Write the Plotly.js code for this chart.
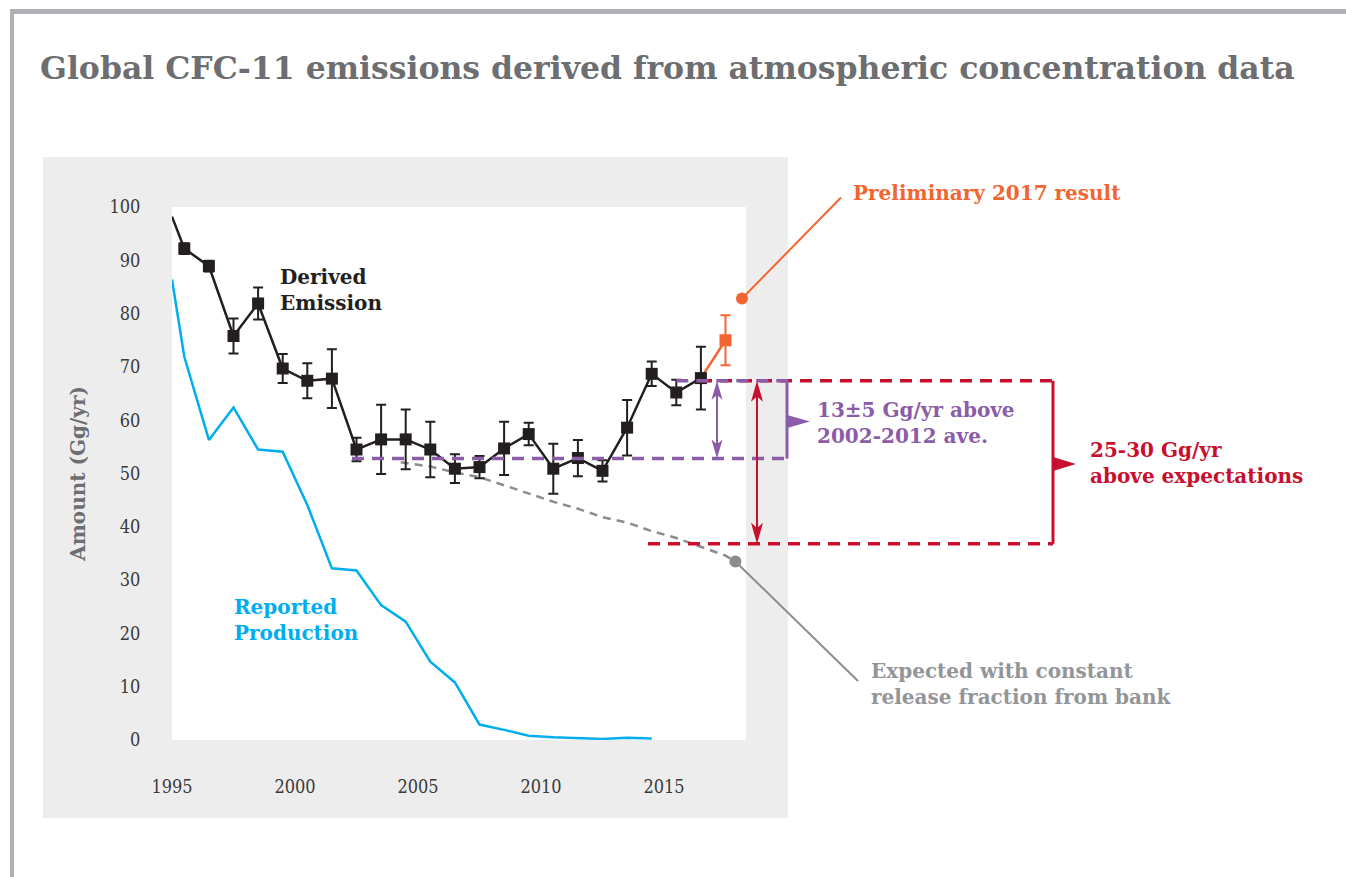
<!DOCTYPE html>
<html>
<head>
<meta charset="utf-8">
<script src="https://cdn.plot.ly/plotly-3.0.1.min.js"></script>
<style>
  html, body { margin: 0; padding: 0; background: #ffffff; }
  #chart { width: 1346px; height: 877px; }
</style>
</head>
<body>
<div id="chart"></div>
<script>
// ---------------- DATA ----------------
// Derived emission (Gg/yr), plotted at mid-year
const derivedYears  = [1995.5, 1996.5, 1997.5, 1998.5, 1999.5, 2000.5, 2001.5, 2002.5, 2003.5, 2004.5, 2005.5,
                       2006.5, 2007.5, 2008.5, 2009.5, 2010.5, 2011.5, 2012.5, 2013.5, 2014.5, 2015.5, 2016.5];
const derivedValues = [92.2, 88.9, 75.8, 81.9, 69.7, 67.4, 67.8, 54.5, 56.4, 56.4, 54.5,
                       50.9, 51.2, 54.7, 57.4, 50.9, 52.9, 50.5, 58.6, 68.7, 65.2, 67.9];
const derivedErrors = [1.0, 1.0, 3.3, 3.0, 2.7, 3.3, 5.5, 2.2, 6.5, 5.6, 5.2,
                       2.7, 2.1, 5.0, 2.1, 4.7, 3.4, 2.0, 5.2, 2.3, 2.4, 5.9];
// where the derived-emission line enters the plot at its left edge
const derivedEdgeYear = 1995.0;
const derivedEdgeValue = 98.2;

// Preliminary 2017 result
const prelimYear = 2017.5;
const prelimValue = 75.0;
const prelimError = 4.7;

// Reported production (Gg/yr)
const productionYears  = [1995.0, 1995.5, 1996.5, 1997.5, 1998.5, 1999.5, 2000.5, 2001.5, 2002.5, 2003.5, 2004.5,
                          2005.5, 2006.5, 2007.5, 2008.5, 2009.5, 2010.5, 2011.5, 2012.5, 2013.5, 2014.5];
const productionValues = [86.4, 71.9, 56.3, 62.4, 54.5, 54.1, 44.1, 32.2, 31.8, 25.3, 22.2,
                          14.7, 10.8, 2.9, 1.9, 0.8, 0.5, 0.3, 0.2, 0.4, 0.3];

// Expected with constant release fraction from bank
const expectedYears  = [2004.3, 2005.5, 2006.5, 2007.5, 2008.5, 2009.5, 2010.5, 2011.5, 2012.5, 2013.5, 2014.5,
                        2015.5, 2016.5, 2017.5, 2017.9];
const expectedValues = [52.1, 51.3, 50.2, 49.3, 47.8, 46.3, 44.7, 43.4, 41.8, 40.8, 39.2,
                        37.9, 36.3, 34.6, 33.5];

// Reference levels used in the annotations
const recentLevel   = 67.4;   // recent emission level
const averageLevel  = 52.8;   // 2002-2012 average
const expectedLevel = 36.8;   // expected value

// Axis ticks
const xTicks = [1995, 2000, 2005, 2010, 2015];
const yTicks = [0, 10, 20, 30, 40, 50, 60, 70, 80, 90, 100];

// ---------------- LAYOUT GEOMETRY ----------------
const W = 1346, H = 877;
const PL = 172, PR = 746, PT = 207, PB = 740;       // plot area in pixels
const XMIN = 1995, XMAX = 1995 + (PR - PL) / 24.6;
const YMIN = 0, YMAX = 100;
const pw = PR - PL, ph = PB - PT;

function xp(year) { return (year - XMIN) / (XMAX - XMIN); }   // data -> paper
function yp(v)    { return (v - YMIN) / (YMAX - YMIN); }
function px2x(px) { return (px - PL) / pw; }                  // pixel -> paper
function px2y(py) { return (PB - py) / ph; }

const FONT = "'DejaVu Serif', serif";
const TICKFONT = "'DejaVu Serif Condensed', 'DejaVu Serif', serif";

const BLACK = '#231f20', BLUE = '#00aeef', ORANGE = '#f26531',
      PURPLE = '#8b5ca8', RED = '#c8102e', GRAY = '#939598';

// ---------------- TRACES ----------------
const traces = [
  { // derived emission line entering from left edge
    x: [derivedEdgeYear].concat(derivedYears),
    y: [derivedEdgeValue].concat(derivedValues),
    mode: 'lines', line: { color: BLACK, width: 2.5 }, hoverinfo: 'skip', showlegend: false
  },
  { // orange link to 2017
    x: [derivedYears[derivedYears.length - 1], prelimYear],
    y: [derivedValues[derivedValues.length - 1], prelimValue],
    mode: 'lines', line: { color: ORANGE, width: 2.5 }, showlegend: false
  },
  { // reported production
    x: productionYears, y: productionValues,
    mode: 'lines', line: { color: BLUE, width: 2.5 }, showlegend: false
  },
  { // expected
    x: expectedYears, y: expectedValues,
    mode: 'lines', line: { color: '#8c8c8e', width: 2.5, dash: '8px,6px' }, showlegend: false
  },
  { // derived markers + error bars
    x: derivedYears, y: derivedValues,
    mode: 'markers',
    marker: { symbol: 'square', size: 12, color: BLACK },
    error_y: { type: 'data', array: derivedErrors, visible: true, color: BLACK, thickness: 2, width: 5 },
    showlegend: false
  },
  { // preliminary 2017
    x: [prelimYear], y: [prelimValue],
    mode: 'markers',
    marker: { symbol: 'square', size: 12, color: ORANGE },
    error_y: { type: 'data', array: [prelimError], visible: true, color: ORANGE, thickness: 2, width: 5 },
    showlegend: false
  }
];

// ---------------- SHAPES ----------------
const shapes = [];
function rectPx(x0, y0, x1, y1, color, layer) {
  shapes.push({ type: 'rect', xref: 'paper', yref: 'paper', layer: layer || 'below',
    x0: px2x(x0), x1: px2x(x1), y0: px2y(y0), y1: px2y(y1),
    fillcolor: color, line: { width: 0 } });
}
function linePaper(x0, y0, x1, y1, color, width, dash, layer) {
  shapes.push({ type: 'line', xref: 'paper', yref: 'paper', layer: layer || 'above',
    x0: x0, y0: y0, x1: x1, y1: y1, line: { color: color, width: width, dash: dash || 'solid' } });
}
function triPaper(pts, color) {
  const d = 'M ' + pts.map(p => p[0] + ',' + p[1]).join(' L ') + ' Z';
  shapes.push({ type: 'path', xref: 'paper', yref: 'paper', path: d, fillcolor: color, line: { width: 0 } });
}
function dotPaper(xc, yc, rPx, color) {
  shapes.push({ type: 'circle', xref: 'paper', yref: 'paper',
    x0: xc - rPx / pw, x1: xc + rPx / pw, y0: yc - rPx / ph, y1: yc + rPx / ph,
    fillcolor: color, line: { width: 0 } });
}
function doubleArrow(xPx, vTop, vBot, color, width, headLen, headHalf) {
  const x = px2x(xPx);
  const yt = yp(vTop), yb = yp(vBot);
  const hl = headLen / ph, hw = headHalf / pw;
  linePaper(x, yt - hl * 0.6, x, yb + hl * 0.6, color, width);
  triPaper([[x, yt], [x - hw, yt - hl], [x, yt - hl * 0.75], [x + hw, yt - hl]], color);
  triPaper([[x, yb], [x - hw, yb + hl], [x, yb + hl * 0.75], [x + hw, yb + hl]], color);
}

// frame & panel
rectPx(10, 9, W, 14, '#b1b1b5');
rectPx(10, 9, 14, H, '#b1b1b5');
rectPx(43, 157, 788, 818, '#ededed');
rectPx(PL, PT, PR, PB, '#ffffff');

// red box (expectations)
linePaper(px2x(700), yp(recentLevel), px2x(1053), yp(recentLevel), RED, 3.5, '12px,8px');
linePaper(px2x(648), yp(expectedLevel), px2x(1053), yp(expectedLevel), RED, 3.5, '12px,8px');
linePaper(px2x(1053), yp(recentLevel), px2x(1053), yp(expectedLevel), RED, 3);
triPaper([[px2x(1053), px2y(457)], [px2x(1076), px2y(464)], [px2x(1053), px2y(471)]], RED);

// purple box (above average)
linePaper(xp(2015.5), yp(recentLevel), px2x(790), yp(recentLevel), PURPLE, 3.5, '12px,8px');
linePaper(px2x(352), yp(averageLevel), px2x(790), yp(averageLevel), PURPLE, 3.5, '12px,8px');
linePaper(px2x(787), yp(recentLevel), px2x(787), yp(averageLevel), PURPLE, 3);
triPaper([[px2x(787), px2y(415)], [px2x(810), px2y(421.5)], [px2x(787), px2y(428)]], PURPLE);

// arrows
doubleArrow(717, recentLevel, averageLevel, PURPLE, 2, 19, 5.5);
doubleArrow(757, recentLevel, expectedLevel, RED, 2, 21, 6);

// leader lines and dots
linePaper(px2x(742), px2y(298.5), px2x(841), px2y(197.5), ORANGE, 2);
dotPaper(px2x(742), px2y(298.5), 6, ORANGE);
linePaper(xp(expectedYears[expectedYears.length - 1]), yp(expectedValues[expectedValues.length - 1]),
          px2x(858), px2y(681), '#8c8c8e', 2);
dotPaper(xp(expectedYears[expectedYears.length - 1]), yp(expectedValues[expectedValues.length - 1]), 6, '#8c8c8e');

// ---------------- ANNOTATIONS ----------------
function label(text, xPx, yPx, color, size) {
  return { text: '<b>' + text + '</b>', xref: 'paper', yref: 'paper', x: px2x(xPx), y: px2y(yPx),
    xanchor: 'left', yanchor: 'middle', align: 'left', showarrow: false,
    font: { family: FONT, size: size || 20, color: color } };
}
const annotations = [
  label('Derived<br>Emission', 278, 290, BLACK),
  label('Reported<br>Production', 232, 620, BLUE),
  label('Preliminary 2017 result', 851, 193, ORANGE),
  label('13±5 Gg/yr above<br>2002-2012 ave.', 815, 423, PURPLE),
  label('25-30 Gg/yr<br>above expectations', 1088, 463, RED),
  label('Expected with constant<br>release fraction from bank', 869, 684, GRAY)
];

const layout = {
  width: W, height: H,
  margin: { l: PL, r: W - PR, t: PT, b: H - PB, pad: 0 },
  paper_bgcolor: '#ffffff', plot_bgcolor: 'rgba(0,0,0,0)',
  title: {
    text: '<b>Global CFC-11 emissions derived from atmospheric concentration data</b>',
    x: 40 / W, xref: 'container', xanchor: 'left',
    y: 1 - 68 / H, yref: 'container', yanchor: 'middle',
    font: { family: FONT, size: 31.5, color: '#6d6e71' }
  },
  xaxis: {
    range: [XMIN, XMAX], tickvals: xTicks, ticktext: xTicks.map(String),
    showgrid: false, zeroline: false, showline: false,
    ticks: 'outside', ticklen: 30, tickcolor: 'rgba(0,0,0,0)',
    tickfont: { family: TICKFONT, size: 18, color: '#3a3a3a' }, fixedrange: true
  },
  yaxis: {
    range: [YMIN, YMAX], tickvals: yTicks, ticktext: yTicks.map(String),
    showgrid: false, zeroline: false, showline: false,
    ticks: 'outside', ticklen: 27, tickcolor: 'rgba(0,0,0,0)',
    tickfont: { family: TICKFONT, size: 18, color: '#3a3a3a' },
    title: { text: '<b>Amount (Gg/yr)</b>', standoff: 18,
             font: { family: FONT, size: 20, color: '#6d6e71' } },
    fixedrange: true
  },
  shapes: shapes,
  annotations: annotations,
  showlegend: false
};

Plotly.newPlot('chart', traces, layout, { displayModeBar: false, staticPlot: true });
</script>
</body>
</html>
